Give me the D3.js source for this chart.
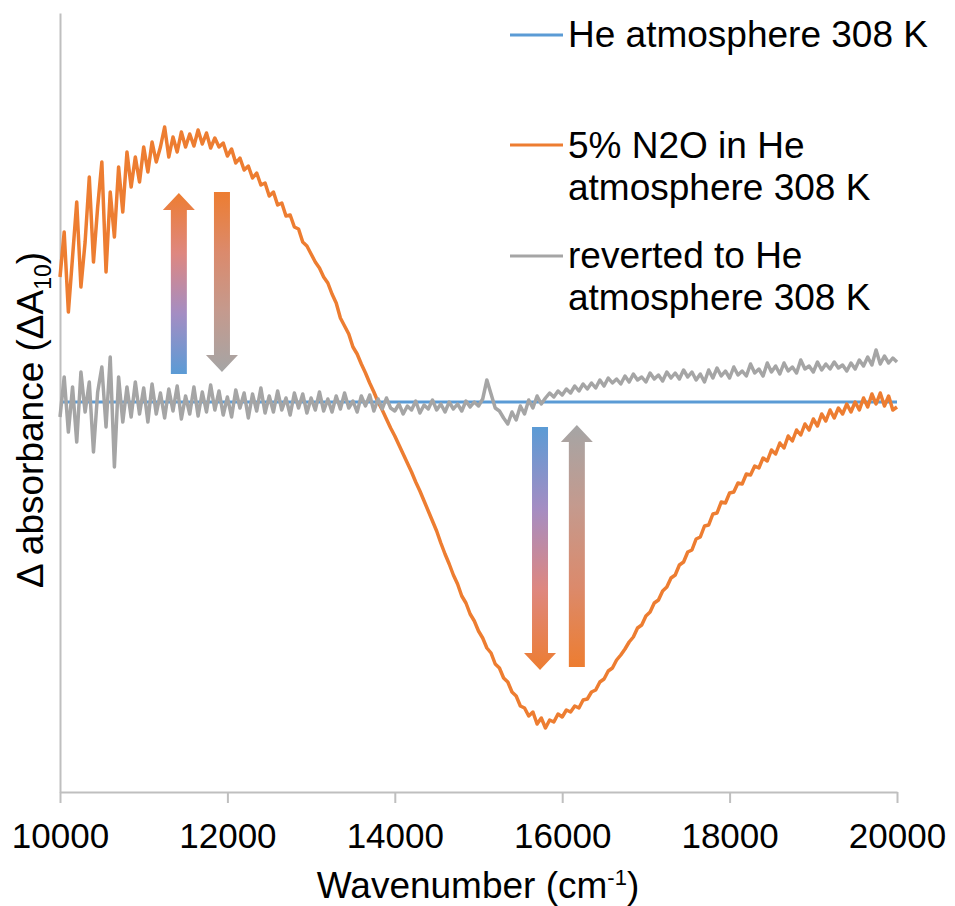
<!DOCTYPE html>
<html>
<head>
<meta charset="utf-8">
<script src="https://cdn.jsdelivr.net/npm/d3@7"></script>
<style>
  body { margin: 0; background: #fff; }
  text { font-family: "Liberation Sans", Arial, sans-serif; fill: #000; }
</style>
</head>
<body>
<div id="chart"></div>
<script>
// sampling grid of the spectra (cm-1)
var wavenumbers = d3.range(10000, 20001, 50);

// delta absorbance, x 1e-3
var n2oSeries = [
  12.5, 17.0, 9.0, 14.5, 20.0, 11.5, 16.0, 22.5, 14.0, 19.5,
  24.0, 13.0, 21.0, 16.5, 23.5, 19.0, 25.0, 21.5, 24.5, 22.0,
  25.5, 23.0, 26.0, 24.0, 25.5, 27.5, 24.5, 26.5, 25.0, 27.0,
  25.5, 26.8, 25.6, 27.2, 25.8, 26.9, 25.4, 26.4, 25.5, 25.9,
  24.6, 25.3, 23.9, 24.4, 23.2, 23.6, 22.4, 22.9, 21.7, 21.9,
  20.6, 21.0, 19.7, 19.9, 18.6, 18.7, 17.5, 17.3, 16.0, 15.6,
  14.8, 14.0, 13.4, 12.5, 11.9, 10.8, 9.9, 8.4, 7.6, 6.8,
  5.5, 4.8, 3.8, 2.9, 1.9, 1.0, 0.0, -0.8, -1.7, -2.6,
  -3.4, -4.3, -5.2, -6.1, -7.0, -8.0, -8.9, -9.9, -10.9, -11.9,
  -12.9, -14.1, -15.2, -16.2, -17.3, -18.2, -19.4, -20.1, -21.2, -21.9,
  -22.9, -23.6, -24.6, -25.1, -26.2, -26.6, -27.6, -28.0, -29.0, -29.4,
  -30.4, -30.6, -31.4, -31.0, -32.2, -31.6, -32.6, -31.8, -32.0, -31.2,
  -31.5, -30.8, -31.0, -30.4, -30.6, -29.8, -29.7, -29.0, -28.8, -28.0,
  -27.7, -26.9, -26.6, -25.8, -25.3, -24.7, -24.0, -23.5, -22.6, -22.3,
  -21.4, -21.0, -20.1, -19.8, -18.9, -18.5, -17.6, -17.3, -16.3, -16.0,
  -15.0, -14.8, -13.7, -13.5, -12.4, -12.3, -11.2, -11.1, -10.0, -10.1,
  -9.1, -9.0, -8.1, -8.2, -7.2, -7.3, -6.4, -6.6, -5.6, -5.9,
  -4.8, -5.2, -4.1, -4.6, -3.4, -3.9, -2.8, -3.3, -2.2, -2.8,
  -1.7, -2.4, -1.2, -1.9, -0.8, -1.6, -0.6, -1.2, -0.2, -1.0,
  0.0, -0.8, 0.4, -0.5, 0.8, -0.2, 0.9, -0.4, 0.6, -0.8,
  -0.5
];

var revertedSeries = [
  -1.5, 2.5, -3.0, 1.5, -4.0, 3.0, -1.0, 2.0, -5.0, 1.0,
  3.5, -2.5, 4.5, -6.5, 2.5, -2.0, 1.5, -1.5, 2.0, -1.2,
  1.4, -2.0, 1.8, -1.2, 0.9, -1.6, 1.3, -0.9, 1.6, -1.7,
  0.6, -1.2, 1.5, -1.4, 1.0, -1.0, 1.7, -0.8, 1.1, -1.3,
  0.5, -1.5, 1.2, -0.6, 0.9, -1.6, 0.8, -0.9, 1.4, -1.1,
  0.6, -1.0, 1.1, -0.8, 0.4, -1.3, 0.9, -0.6, 0.8, -1.1,
  0.4, -0.8, 1.0, -0.9, 0.3, -1.0, 0.6, -0.7, 0.9, -0.6,
  0.1, -1.0, 0.6, -0.4, 0.7, -0.9, 0.3, -0.7, 0.4, -0.6,
  -0.9, -0.2, -1.2, -0.4, -0.8, 0.1, -1.1, -0.3, -0.7, 0.2,
  -0.8, -0.2, -1.0, 0.0, -0.7, -0.2, -0.9, 0.1, -0.5, 0.0,
  -0.4, 0.3, 2.2, 0.8, -0.6, -0.9, -1.6, -2.2, -1.0, -1.8,
  -0.4, -1.2, 0.2, -0.6, 0.6, -0.2, 0.4, 0.9, 0.5, 1.1,
  0.7, 1.3, 0.9, 1.6, 1.1, 1.8, 1.3, 1.9, 1.4, 2.2,
  1.6, 2.4, 1.9, 2.3, 1.8, 2.6, 2.0, 2.8, 2.2, 2.5,
  2.0, 2.9, 2.3, 2.7, 2.1, 3.0, 2.4, 2.9, 2.3, 3.2,
  2.5, 3.0, 2.2, 2.8, 2.0, 3.2, 2.4, 3.4, 2.6, 3.1,
  2.4, 3.5, 2.7, 3.1, 2.6, 3.8, 2.9, 3.3, 2.6, 3.9,
  3.0, 3.6, 2.8, 3.9, 3.1, 3.5, 2.9, 4.2, 3.3, 3.6,
  3.0, 4.0, 3.2, 3.8, 3.3, 4.0, 3.4, 3.7, 3.1, 3.9,
  3.3, 4.2, 3.6, 4.5, 3.7, 5.2, 3.8, 4.6, 3.9, 4.4,
  4.0
];

// He reference is flat
var heX = [10000, 20000];
var heSeries = [0, 0];

var xTicks = [10000, 12000, 14000, 16000, 18000, 20000];

var legendLabels = [
  ["He atmosphere 308 K"],
  ["5% N2O in He", "atmosphere 308 K"],
  ["reverted to He", "atmosphere 308 K"]
];

// annotation arrows (wavenumber, tail value, tip value)
var arrowWavenumber = [11420, 11935, 15735, 16175];
var arrowTail = [2.8, 21.0, -2.5, -26.5];
var arrowTip = [20.9, 3.0, -26.8, -2.3];

var blue = "#5B9BD5", orange = "#ED7D31", grey = "#A5A5A5";
var seriesColors = [blue, orange, grey];
var arrowStops = [
  [blue, "#A48DC3", "#DE8780", orange],
  [orange, "#DB8A6C", "#C49A8E", grey],
  [blue, "#A48DC3", "#DE8780", orange],
  [orange, "#DB8A6C", "#C49A8E", grey]
];

var svgWidth = 955;
var svgHeight = 906;

var svg = d3.select("#chart")
  .append("svg")
  .attr("width", svgWidth)
  .attr("height", svgHeight);

var x = d3.scaleLinear().domain([10000, 20000]).range([60, 897]);
var y = d3.scaleLinear().domain([-39, 38.9]).range([792, 13]);

// axes
var xAxis = svg.append("g")
  .attr("transform", "translate(0," + y(-39) + ")")
  .call(d3.axisBottom(x).tickValues(xTicks).tickFormat(d3.format("d"))
    .tickSize(11).tickPadding(20).tickSizeOuter(0));
xAxis.select(".domain").attr("stroke", "#bfbfbf").attr("stroke-width", 2);
xAxis.selectAll(".tick line").attr("stroke", "#bfbfbf").attr("stroke-width", 2);
xAxis.selectAll(".tick text")
  .attr("font-size", "35px")
  .attr("font-family", "'Liberation Sans', Arial, sans-serif")
  .attr("fill", "#000");

var yAxis = svg.append("g")
  .attr("transform", "translate(" + x(10000) + ",0)")
  .call(d3.axisLeft(y).ticks(0).tickSizeOuter(0));
yAxis.select(".domain").attr("stroke", "#bfbfbf").attr("stroke-width", 2);

// lines
var line = d3.line()
  .x(function (d) { return x(d[0]); })
  .y(function (d) { return y(d[1]); });

var heData = heX.map(function (w, i) { return [w, heSeries[i]]; });
var n2oData = wavenumbers.map(function (w, i) { return [w, n2oSeries[i]]; });
var revData = wavenumbers.map(function (w, i) { return [w, revertedSeries[i]]; });

svg.append("path").datum(heData)
  .attr("d", line).attr("fill", "none")
  .attr("stroke", blue).attr("stroke-width", 3);

svg.append("path").datum(n2oData)
  .attr("d", line).attr("fill", "none")
  .attr("stroke", orange).attr("stroke-width", 3.5)
  .attr("stroke-linejoin", "round");

svg.append("path").datum(revData)
  .attr("d", line).attr("fill", "none")
  .attr("stroke", grey).attr("stroke-width", 3.5)
  .attr("stroke-linejoin", "round");

// gradient arrows
var defs = svg.append("defs");
var shaftW = 16, headW = 32, headL = 17;

arrowWavenumber.forEach(function (w, i) {
  var cx = x(w), yTail = y(arrowTail[i]), yTip = y(arrowTip[i]);
  var s = yTail > yTip ? 1 : -1;
  var yBase = yTip + s * headL;

  var grad = defs.append("linearGradient")
    .attr("id", "arrowGrad" + i)
    .attr("gradientUnits", "userSpaceOnUse")
    .attr("x1", cx).attr("y1", yTail)
    .attr("x2", cx).attr("y2", yTip);
  arrowStops[i].forEach(function (c, j) {
    grad.append("stop")
      .attr("offset", j / (arrowStops[i].length - 1))
      .attr("stop-color", c);
  });

  var pts = [
    [cx - shaftW / 2, yTail], [cx - shaftW / 2, yBase], [cx - headW / 2, yBase],
    [cx, yTip],
    [cx + headW / 2, yBase], [cx + shaftW / 2, yBase], [cx + shaftW / 2, yTail]
  ];
  svg.append("path")
    .attr("d", "M" + pts.join("L") + "Z")
    .attr("fill", "url(#arrowGrad" + i + ")");
});

// legend
var legendRows = [[35, [47]], [145, [158, 200]], [256, [268, 310]]];
legendLabels.forEach(function (lines, i) {
  var ly = legendRows[i][0];
  svg.append("line")
    .attr("x1", 510).attr("x2", 563)
    .attr("y1", ly).attr("y2", ly)
    .attr("stroke", seriesColors[i]).attr("stroke-width", 3);
  lines.forEach(function (t, k) {
    svg.append("text")
      .attr("x", 568).attr("y", legendRows[i][1][k])
      .attr("font-size", "37px")
      .text(t);
  });
});

// axis titles
var xTitle = svg.append("text")
  .attr("x", 478).attr("y", 898)
  .attr("text-anchor", "middle")
  .attr("font-size", "37px");
xTitle.append("tspan").text("Wavenumber (cm");
xTitle.append("tspan").attr("dy", -13).attr("font-size", "22px").text("-1");
xTitle.append("tspan").attr("dy", 13).text(")");

var yTitle = svg.append("text")
  .attr("transform", "translate(43,420) rotate(-90)")
  .attr("text-anchor", "middle")
  .attr("font-size", "37px");
yTitle.append("tspan").text("\u0394 absorbance (\u0394A");
yTitle.append("tspan").attr("dy", 8).attr("font-size", "23px").text("10");
yTitle.append("tspan").attr("dy", -8).text(")");
</script>
</body>
</html>
